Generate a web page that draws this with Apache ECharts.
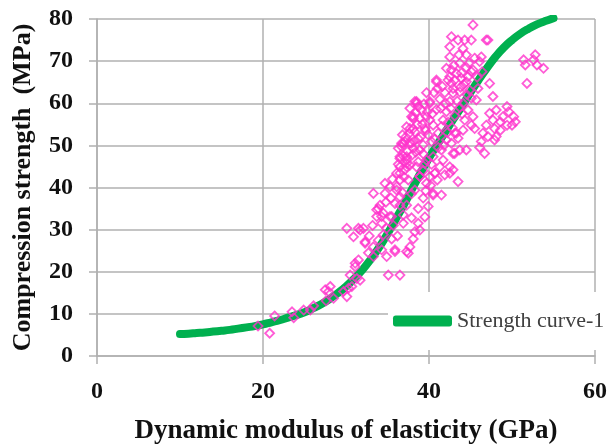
<!DOCTYPE html>
<html>
<head>
<meta charset="utf-8">
<script src="https://cdn.jsdelivr.net/npm/echarts@6/dist/echarts.min.js"></script>
<style>
  html, body { margin: 0; padding: 0; background: #fff; }
  #chart { width: 611px; height: 445px; }
</style>
</head>
<body>
<div id="chart"></div>
<script>
// strength curve, read every 1 GPa from the picture
const curveX = [10,11,12,13,14,15,16,17,18,19,20,21,22,23,24,25,26,27,28,29,30,31,32,33,34,35,36,37,38,39,40,41,42,43,44,45,46,47,48,49,50,51,52,53,54,55];
const curveY = [5.2,5.3,5.45,5.6,5.8,6.0,6.2,6.5,6.8,7.1,7.5,8.0,8.5,9.1,9.7,10.4,11.3,12.3,13.5,14.9,16.5,18.4,20.5,23.0,25.8,29.0,32.5,36.0,39.8,43.5,47.0,50.2,53.3,56.4,59.4,62.6,65.6,68.4,71.0,73.2,75.0,76.5,77.7,78.7,79.5,80.2];

// measured points [modulus, strength]
const lowPts = [[19.4,7.1],[20.8,5.4],[21.4,9.5],[23.5,10.5],[23.7,9.1],[24.9,10.9],[25.7,10.9],[26.1,11.9],[27.6,13.1],[27.9,15.3],[27.5,15.7],[28.1,16.5],[28.5,13.7],[29.7,15.3],[30.1,14.1],[30.3,16.1],[30.7,16.5],[30.5,19.2],[31.7,18],[31.3,18.4],[31.1,22],[31.5,22.8],[31.1,21.2],[30.1,30.3],[30.9,28.3],[31.5,30.3],[32.1,30.3],[32.3,26.8],[31.7,29.9],[32.3,27.1],[33.3,25.9],[34.3,25.2],[34.9,23.6],[35.9,24.8],[37.3,24.8],[37.7,25.9],[37.5,24.4],[35.1,19.2],[36.5,19.2],[33.3,23.6],[32.7,24.5],[33.9,27.5],[34.5,28.8],[35.5,27.8],[33.2,31],[32.8,28.5]];
const midPts = [[36.9,31.5],[38.3,29.5],[38.7,31.5],[38.9,29.9],[35.9,25.2],[35.5,33.1],[34.3,33.1],[33.7,34.7],[34.1,35.8],[33.3,38.6],[33.9,35],[34.5,33.9],[33.7,33.1],[35.3,33.1],[34.3,31.5],[34.9,30.3],[35.9,36.2],[36.5,37.8],[34.7,38.6],[35.3,40.2],[36.1,39.4],[36.5,41.8],[37.1,44.2],[36.5,43.4],[36.1,43.4],[36.5,44.9],[37.3,45.7],[36.5,47.3],[34.7,41],[37.3,46.5],[37.7,45.3],[38.5,44.9],[39.5,45.7],[38.3,39.4],[38.7,35],[37.3,35.8],[36.5,35.8],[36.7,49.7],[37.7,50.5],[38.9,48.9],[39.7,41],[40.5,38.6],[40.7,43.4],[40.1,42.6],[36.1,40.2],[37.5,41.8],[37.3,44.9],[36.9,50.5],[38.9,42.6],[37.9,38.5],[36.9,33.5],[35.7,31],[37.9,32.8],[39.3,37.5],[39.9,35.5],[36.2,28.5],[38.1,27.8],[39.5,33],[37,42.5],[36.3,45.5],[35.6,42],[35.4,37.5],[36.8,38.8],[39.6,39.2],[40.2,40.5],[41,41.8],[34.8,36.5]];
const upPts = [[40.9,65.1],[38.5,60],[40.1,60],[39.1,58.4],[37.7,58.8],[38.1,56.4],[38.9,56.4],[39.7,56.8],[37.7,54],[38.3,53.2],[38.7,51.6],[36.7,50.5],[36.3,49.3],[37.1,50.9],[38.1,49.3],[39.3,50.1],[40.3,50.9],[36.5,46.9],[36.9,47.5],[38.7,46.1],[39.7,46.5],[41.1,52.9],[40.5,54.8],[41.7,56],[42.1,58],[42.5,60.4],[42.9,62.4],[42.7,64.7],[43.3,67.1],[42.5,66.3],[42.1,68.3],[40.5,47.3],[41.5,48.9],[42.1,51.3],[42.5,44.9],[41.3,44.9],[41.9,43],[42.9,44.2],[42.9,48.1],[43.3,52.9],[40.7,43.4],[38.5,60.4],[37.9,56.8],[38.1,54],[37.3,54.4],[38.1,56.8],[38.7,59.2],[38.3,60.4],[40.1,60.4],[40.9,65.5],[37.9,50.5],[37.3,47.3],[38.9,42.6],[41.5,38.2],[40.5,38.2],[42.5,43.4],[43.5,41.4],[44.5,48.9],[39.5,54],[40.1,56],[40.9,58.5],[41.3,61],[41.9,62.5],[39.9,52.5],[40.7,51.5],[41.5,54.5],[42.3,55.5],[43.1,57],[43.7,59],[41.1,49.5],[39.3,48],[40.3,45.5],[41.7,46.5],[39.7,62.5],[39.3,44],[36.8,52.5],[37.2,52],[37.6,52.8],[38.2,51],[38.6,55],[39.2,55],[39.6,53.5],[39,52],[38.4,57.8],[39.4,59.8],[39.8,58],[40.4,57.5],[40.6,62.5],[41,63.5],[41.6,64],[41.4,58.8],[42,60],[42.6,58.8],[42.8,54.2],[42.2,53],[41.8,50],[37.4,48.6],[38,47.8],[38.4,48.4]];
const topPts = [[45.3,78.6],[42.7,75.8],[43.5,75],[44.3,75],[45.1,75],[46.9,75],[47.1,75],[42.5,73.4],[44.1,73],[42.5,71],[44.5,71.5],[46.3,71],[46.1,69.9],[45.5,70.7],[43.7,69.5],[45.3,67.9],[42.7,67.9],[42.3,65.5],[43.1,65.5],[43.9,65.9],[44.7,66.3],[44.5,65.1],[45.1,67.5],[42.9,63.5],[43.7,62.7],[44.9,63.1],[45.9,63.5],[47.3,64.7],[47.7,61.6],[45.7,60.8],[45.1,61.2],[44.1,60],[44.7,58.4],[45.3,56.8],[44.3,56],[45.1,54.8],[45.5,54],[44.1,53.6],[43.1,52.9],[43.5,51.7],[42.7,50.5],[43.7,48.9],[43.1,48.1],[44.5,68.5],[43.9,67.2],[43.4,60.5],[43.8,63.8],[44.2,64.5],[44.6,62],[43,69],[43.6,71.5],[44.8,69.5],[45.8,66.2],[46.4,67.5],[44,57.5]];
const rightPts = [[46.7,48.1],[46.3,50.9],[47.1,52.1],[46.5,52.9],[47.9,51.3],[46.9,54.8],[47.9,54],[48.6,53.6],[47.7,56],[48.6,55.6],[49.4,54.8],[48.9,56.8],[49.6,58],[48.1,58.4],[49.4,59.2],[50.2,56.8],[50,54.8],[50.4,55.6],[47.3,57.6],[48.1,52.1],[46.1,49.5],[51.4,70.3],[51.6,69.1],[52.8,71.5],[52.6,70.3],[53,69.1],[53.8,68.3],[51.8,64.7]];

const xTicks = [0, 20, 40, 60];
const yTicks = [0, 10, 20, 30, 40, 50, 60, 70, 80];

const chart = echarts.init(document.getElementById('chart'));
const font = '"Liberation Serif", "Times New Roman", serif';
const gridColor = '#b0b0b0';

const points = [].concat(lowPts, midPts, upPts, topPts, rightPts);

const option = {
    backgroundColor: '#fff',
    animation: false,
    grid: { left: 97, right: 16, top: 19, bottom: 89, outerBoundsMode: 'none', containLabel: false },
    legend: {
        data: [{ name: 'Strength curve-1', icon: 'roundRect' }],
        left: 388,
        top: 292,
        padding: [18, 40, 18, 5],
        backgroundColor: '#fff',
        itemWidth: 59,
        itemHeight: 11,
        itemGap: 6,
        textStyle: { fontFamily: font, fontSize: 22, color: '#404040' }
    },
    xAxis: {
        type: 'value',
        min: xTicks[0],
        max: xTicks[xTicks.length - 1],
        interval: 20,
        name: 'Dynamic modulus of elasticity (GPa)',
        nameLocation: 'middle',
        nameGap: 62,
        nameTextStyle: { fontFamily: font, fontSize: 27, fontWeight: 'bold', color: '#111' },
        axisLine: { show: true, lineStyle: { color: gridColor, width: 1.5 } },
        axisTick: { show: true, length: 8, lineStyle: { color: gridColor, width: 1.5 } },
        axisLabel: { fontFamily: font, fontSize: 24, fontWeight: 'bold', color: '#111', margin: 24 },
        splitLine: { show: true, lineStyle: { color: gridColor, width: 1.5 } }
    },
    yAxis: {
        type: 'value',
        min: yTicks[0],
        max: yTicks[yTicks.length - 1],
        interval: 10,
        name: 'Compression strength  (MPa)',
        nameLocation: 'middle',
        nameGap: 61,
        nameTextStyle: { fontFamily: font, fontSize: 26, fontWeight: 'bold', color: '#111' },
        axisLine: { show: true, lineStyle: { color: gridColor, width: 1.5 } },
        axisTick: { show: true, length: 8, lineStyle: { color: gridColor, width: 1.5 } },
        axisLabel: { fontFamily: font, fontSize: 24, fontWeight: 'bold', color: '#111', margin: 24 },
        splitLine: { show: true, lineStyle: { color: gridColor, width: 1.5 } }
    },
    series: [
        {
            name: 'Strength curve-1',
            type: 'line',
            data: curveX.map((x, i) => [x, curveY[i]]),
            showSymbol: false,
            smooth: true,
            color: '#00b04f',
            lineStyle: { width: 8, color: '#00b04f', cap: 'round', join: 'round' },
            z: 2
        },
        {
            name: 'data',
            type: 'scatter',
            data: points,
            symbol: 'diamond',
            symbolSize: 9,
            itemStyle: { color: 'rgba(255,255,255,0)', borderColor: '#ff33cc', borderWidth: 1.8 },
            z: 3
        }
    ]
};

chart.setOption(option);
</script>
</body>
</html>
